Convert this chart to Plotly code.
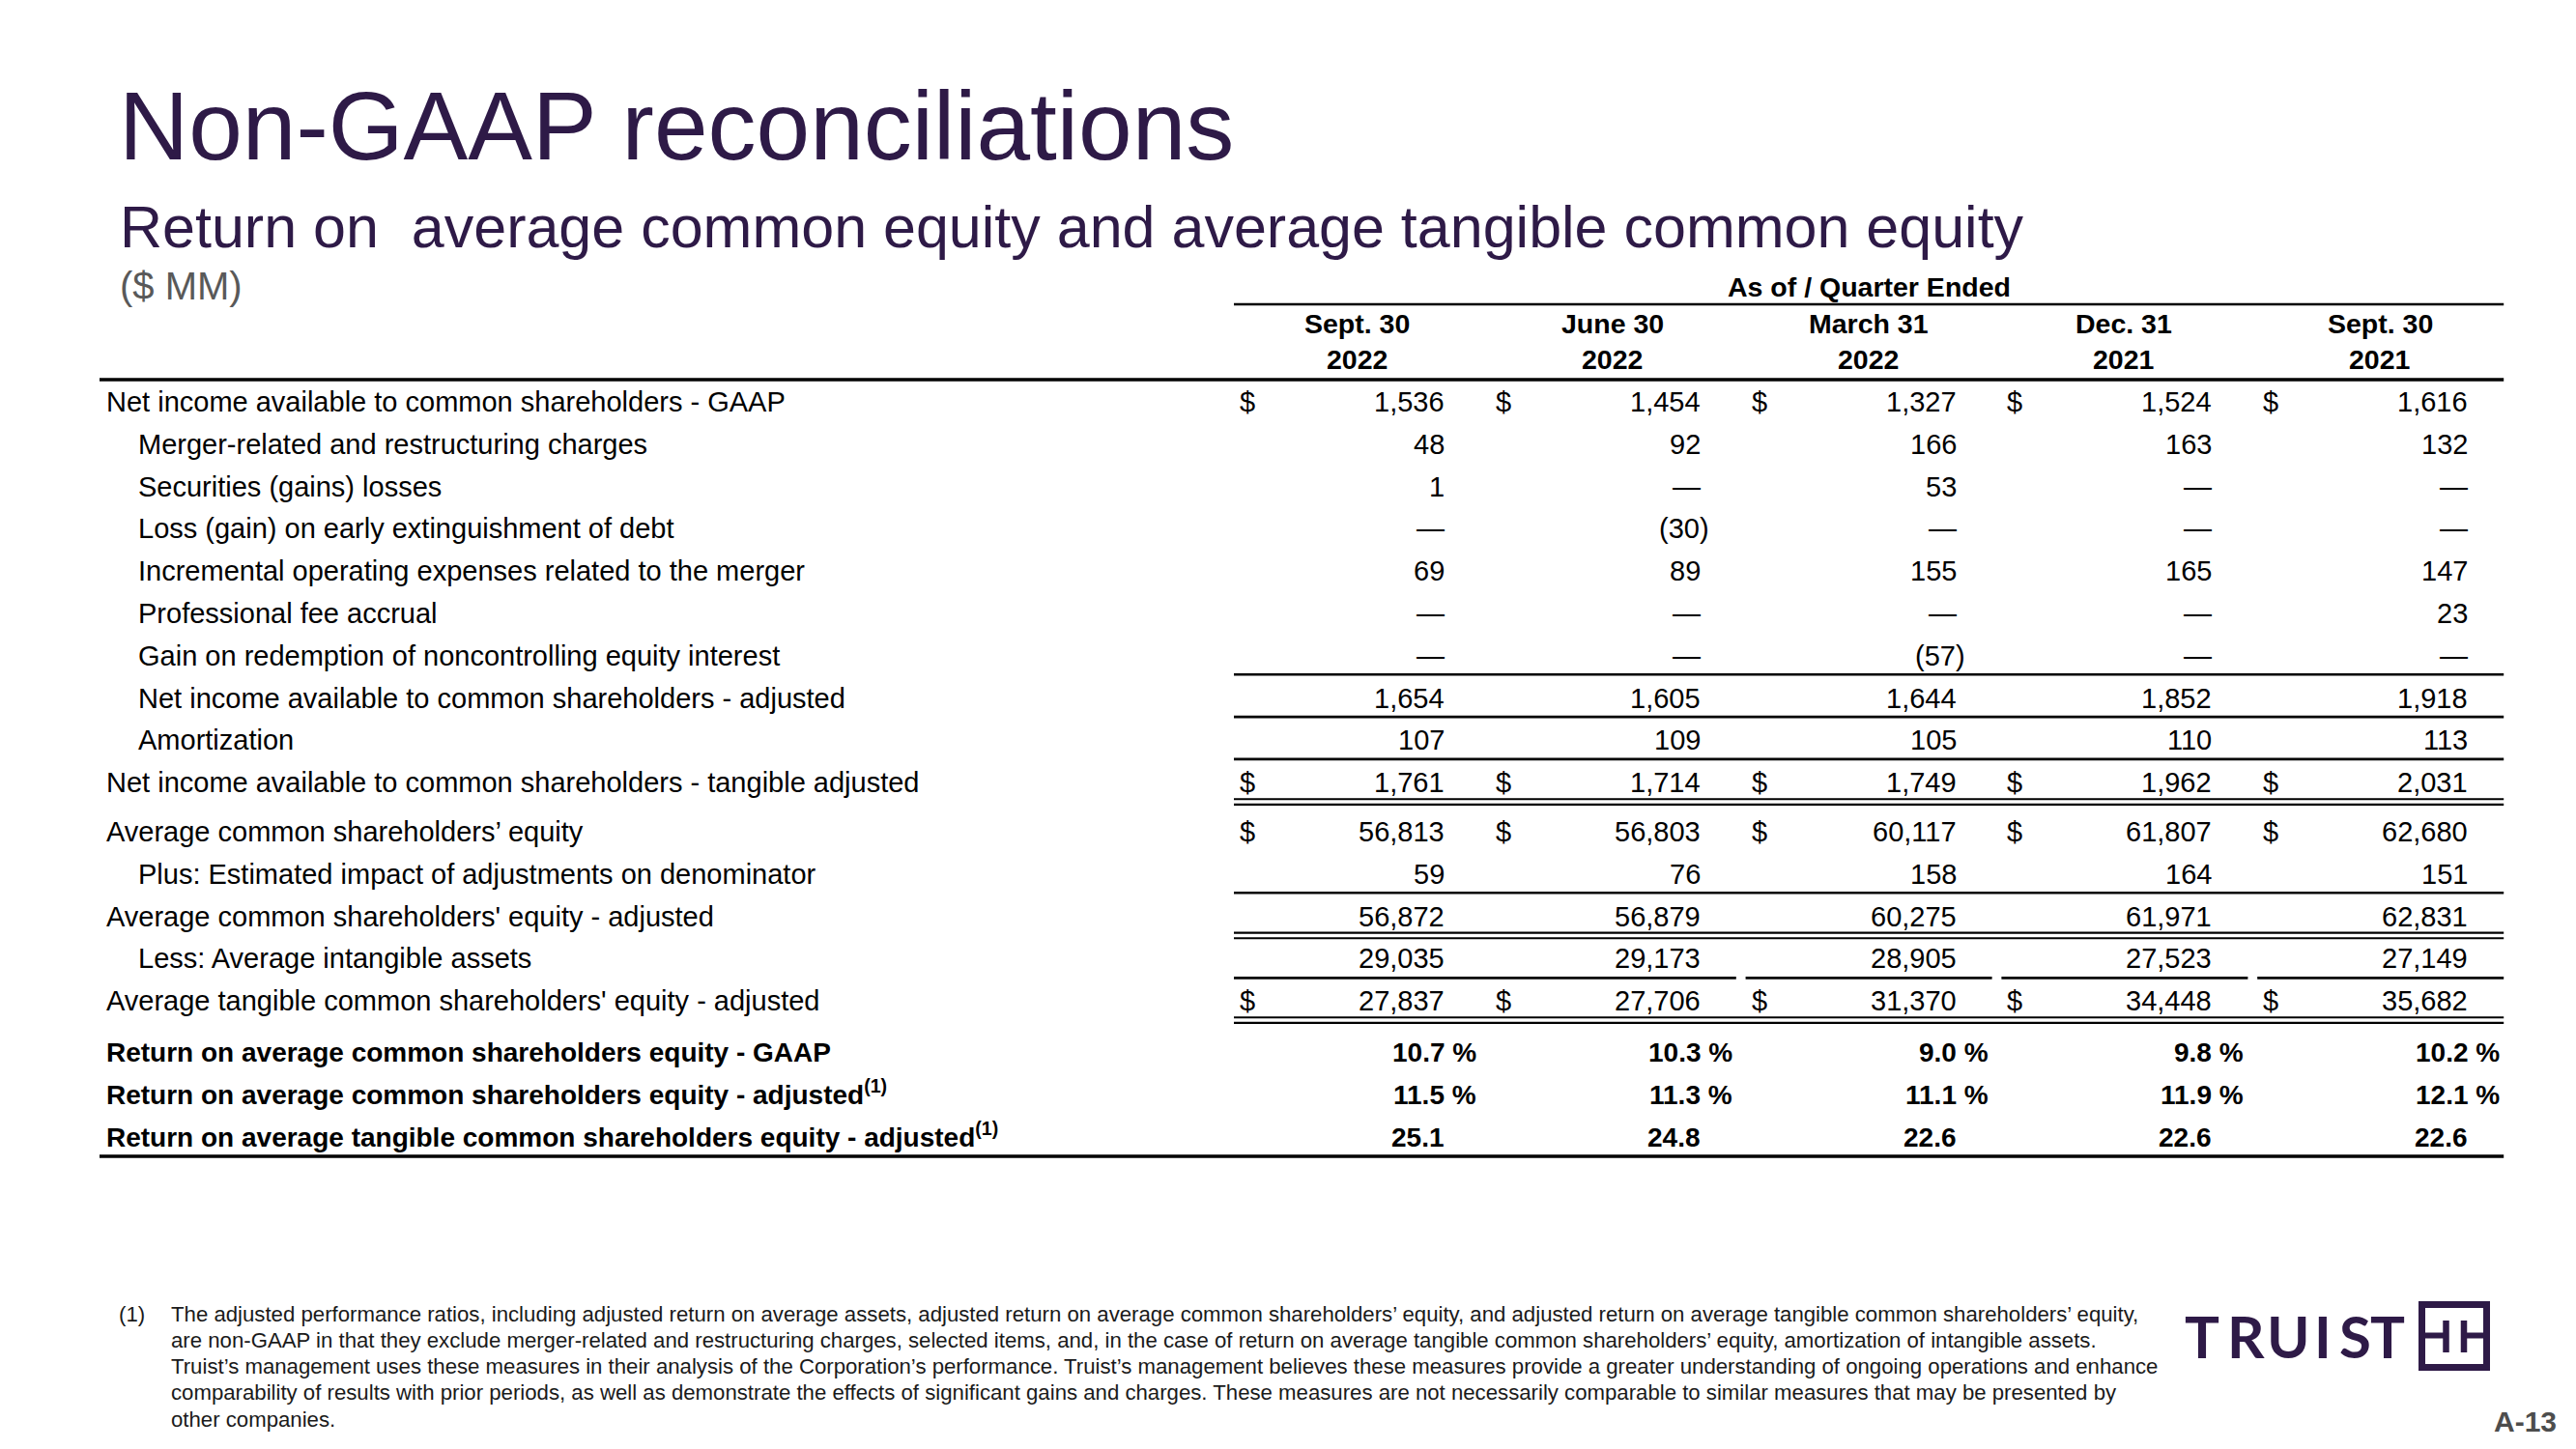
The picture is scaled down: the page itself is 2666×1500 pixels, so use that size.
import plotly.graph_objects as go

# ---------------- data ----------------
title_text = "Non-GAAP reconciliations"
subtitle_text = "Return on\u00a0 average common equity and average tangible common equity"
unit_text = "($ MM)"
group_header = "As of / Quarter Ended"
period_month = ["Sept. 30", "June 30", "March 31", "Dec. 31", "Sept. 30"]
period_year = ["2022", "2022", "2022", "2021", "2021"]

row_labels = [
    "Net income available to common shareholders - GAAP",
    "Merger-related and restructuring charges",
    "Securities (gains) losses",
    "Loss (gain) on early extinguishment of debt",
    "Incremental operating expenses related to the merger",
    "Professional fee accrual",
    "Gain on redemption of noncontrolling equity interest",
    "Net income available to common shareholders - adjusted",
    "Amortization",
    "Net income available to common shareholders - tangible adjusted",
    "Average common shareholders\u2019 equity",
    "Plus: Estimated impact of adjustments on denominator",
    "Average common shareholders' equity - adjusted",
    "Less: Average intangible assets",
    "Average tangible common shareholders' equity - adjusted",
    "Return on average common shareholders equity - GAAP",
    "Return on average common shareholders equity - adjusted<sup>(1)</sup>",
    "Return on average tangible common shareholders equity - adjusted<sup>(1)</sup>",
]
row_indent = [False, True, True, True, True, True, True, True, True,
              False, False, True, False, True, False, False, False, False]
row_bold = [False] * 15 + [True] * 3
row_dollar = [True, False, False, False, False, False, False, False, False,
              True, True, False, False, False, True, False, False, False]
row_kind = ["num"] * 15 + ["pct", "pct", "ratio"]

net_income_gaap = [1536, 1454, 1327, 1524, 1616]
merger_restructuring = [48, 92, 166, 163, 132]
securities_gains_losses = [1, None, 53, None, None]
debt_extinguishment = [None, -30, None, None, None]
incremental_merger_opex = [69, 89, 155, 165, 147]
professional_fee_accrual = [None, None, None, None, 23]
gain_nci_redemption = [None, None, -57, None, None]
net_income_adjusted = [1654, 1605, 1644, 1852, 1918]
amortization = [107, 109, 105, 110, 113]
net_income_tangible_adj = [1761, 1714, 1749, 1962, 2031]
avg_common_equity = [56813, 56803, 60117, 61807, 62680]
plus_denominator_adj = [59, 76, 158, 164, 151]
avg_common_equity_adj = [56872, 56879, 60275, 61971, 62831]
less_avg_intangibles = [29035, 29173, 28905, 27523, 27149]
avg_tangible_equity_adj = [27837, 27706, 31370, 34448, 35682]
roe_gaap = [10.7, 10.3, 9.0, 9.8, 10.2]
roe_adjusted = [11.5, 11.3, 11.1, 11.9, 12.1]
rotce_adjusted = [25.1, 24.8, 22.6, 22.6, 22.6]

row_values = [
    net_income_gaap, merger_restructuring, securities_gains_losses,
    debt_extinguishment, incremental_merger_opex, professional_fee_accrual,
    gain_nci_redemption, net_income_adjusted, amortization,
    net_income_tangible_adj, avg_common_equity, plus_denominator_adj,
    avg_common_equity_adj, less_avg_intangibles, avg_tangible_equity_adj,
    roe_gaap, roe_adjusted, rotce_adjusted,
]

# rules drawn below given rows
rule_below = {6: "single", 7: "single", 8: "single", 9: "double",
              11: "single", 12: "double", 13: "split", 14: "double", 17: "heavy"}

footnote_marker = "(1)"
footnote_lines = [
    "The adjusted performance ratios, including adjusted return on average assets, adjusted return on average common shareholders\u2019 equity, and adjusted return on average tangible common shareholders\u2019 equity,",
    "are non-GAAP in that they exclude merger-related and restructuring charges, selected items, and, in the case of return on average tangible common shareholders\u2019 equity, amortization of intangible assets.",
    "Truist\u2019s management uses these measures in their analysis of the Corporation\u2019s performance. Truist\u2019s management believes these measures provide a greater understanding of ongoing operations and enhance",
    "comparability of results with prior periods, as well as demonstrate the effects of significant gains and charges. These measures are not necessarily comparable to similar measures that may be presented by",
    "other companies.",
]
logo_letters = ["T", "R", "U", "I", "S", "T"]
page_number = "A-13"

# ---------------- style / geometry ----------------
W, H = 2666, 1500
PAGE_OFFSET = 8          # default body margin of the html page
PURPLE = "#2E1A47"
BLACK = "#000000"
FONT = "Liberation Sans, Arial, Helvetica, sans-serif"
BODY = 29
BOLD = 28
FOOT = 22.2

TABLE_LEFT = 103
COL0 = 1277
COL_STEP = 264.8
COL_W = 255
NUM_RIGHT = 218
DOLLAR_X = 14
HEAD_CX = 127


def col_left(k):
    return COL0 + k * COL_STEP


def row_y(i):
    return 416 + i * 43.8 + (7 if i >= 10 else 0) + (9.5 if i >= 15 else 0)


def fmt(v, kind):
    if v is None:
        return "\u2014"
    if kind == "pct":
        return f"{v:.1f} %"
    if kind == "ratio":
        return f"{v:.1f}"
    if v < 0:
        return f"({abs(v):,})"
    return f"{v:,}"


annotations = []
shapes = []


def text(x, y, s, size, color=BLACK, anchor="left", bold=False, family=FONT, yanchor="middle", align="left"):
    annotations.append(dict(
        x=x, y=y, xref="x", yref="y", text=s, showarrow=False,
        xanchor=anchor, yanchor=yanchor, align=align,
        borderpad=0, borderwidth=0,
        font=dict(size=size, color=color, family=family, weight=700 if bold else 400),
    ))


def hline(x0, x1, y, width, color=BLACK):
    shapes.append(dict(type="line", xref="x", yref="y", x0=x0, x1=x1, y0=y, y1=y,
                       line=dict(color=color, width=width)))


# titles
text(123, 130, title_text, 100, PURPLE)
text(124, 234.6, subtitle_text, 61, PURPLE)
text(124, 296, unit_text, 40, "#595959")

# header
ncols = len(period_month)
table_right = col_left(ncols - 1) + COL_W
text((COL0 + table_right) / 2, 297, group_header, 28.5, anchor="center", bold=True)
hline(COL0, table_right, 315, 2.5)
for k in range(ncols):
    text(col_left(k) + HEAD_CX, 335, period_month[k], 28.5, anchor="center", bold=True)
    text(col_left(k) + HEAD_CX, 372, period_year[k], 28.5, anchor="center", bold=True)
hline(TABLE_LEFT, table_right, 393, 3.5)

# body rows
for i, label in enumerate(row_labels):
    y = row_y(i)
    size = BOLD if row_bold[i] else BODY
    x_label = 143 if row_indent[i] else 110
    y_label = y - 2 if "<sup>" in label else y
    text(x_label, y_label, label, size, bold=row_bold[i])
    for k in range(ncols):
        v = row_values[i][k]
        kind = row_kind[i]
        xr = col_left(k) + NUM_RIGHT
        s = fmt(v, kind)
        if kind == "pct":
            xr += 33
        elif v is not None and kind == "num" and v < 0:
            xr += 9.5
        text(xr, y, s, size, anchor="right", bold=row_bold[i])
        if row_dollar[i]:
            text(col_left(k) + DOLLAR_X, y, "$", size, anchor="center")
    rule = rule_below.get(i)
    if rule == "single":
        hline(COL0, table_right, y + 19.5, 2.6)
    elif rule == "double":
        hline(COL0, table_right, y + 17, 2.1)
        hline(COL0, table_right, y + 22.7, 2.1)
    elif rule == "split":
        yl = y + 20
        hline(col_left(0), col_left(1) + COL_W, yl, 2.6)
        for k in range(2, ncols):
            hline(col_left(k), col_left(k) + COL_W, yl, 2.6)
    elif rule == "heavy":
        hline(TABLE_LEFT, table_right, y + 20, 3.5)

# footnote
text(123, 1360, footnote_marker, FOOT, "#1a1a1a")
for j, line in enumerate(footnote_lines):
    text(177, 1360 + j * 27.3, line, FOOT, "#1a1a1a")

# logo
logo_x = [2279, 2324, 2368, 2404, 2437, 2471]
for ch, lx in zip(logo_letters, logo_x):
    text(lx, 1383, ch, 60, PURPLE, anchor="center", bold=True, family="Lato, Open Sans, sans-serif")
shapes.append(dict(type="rect", xref="x", yref="y", x0=2506.5, x1=2573.5, y0=1350.5, y1=1415.5,
                   line=dict(color=PURPLE, width=7), fillcolor="rgba(0,0,0,0)"))
for vx in (2531.5, 2550):
    shapes.append(dict(type="line", xref="x", yref="y", x0=vx, x1=vx, y0=1367, y1=1400,
                       line=dict(color=PURPLE, width=6.5)))
hline(2506, 2531.5, 1382.5, 6, PURPLE)
hline(2550, 2574, 1382.5, 6, PURPLE)

# page number
text(2646, 1471, page_number, 30, "#4d4d4d", anchor="right", bold=True)

fig = go.Figure()
fig.add_trace(go.Scatter(x=[PAGE_OFFSET, W], y=[PAGE_OFFSET, H], mode="markers",
                         marker=dict(opacity=0), hoverinfo="skip", showlegend=False))
fig.update_layout(
    width=W, height=H,
    margin=dict(l=0, r=0, t=0, b=0),
    paper_bgcolor="white", plot_bgcolor="white",
    # axis ranges shifted so that data units equal page pixels
    xaxis=dict(range=[PAGE_OFFSET, W + PAGE_OFFSET], visible=False, fixedrange=True),
    yaxis=dict(range=[H + PAGE_OFFSET, PAGE_OFFSET], visible=False, fixedrange=True),
    annotations=annotations, shapes=shapes,
    showlegend=False, hovermode=False,
)
fig.write_html("out.html")
